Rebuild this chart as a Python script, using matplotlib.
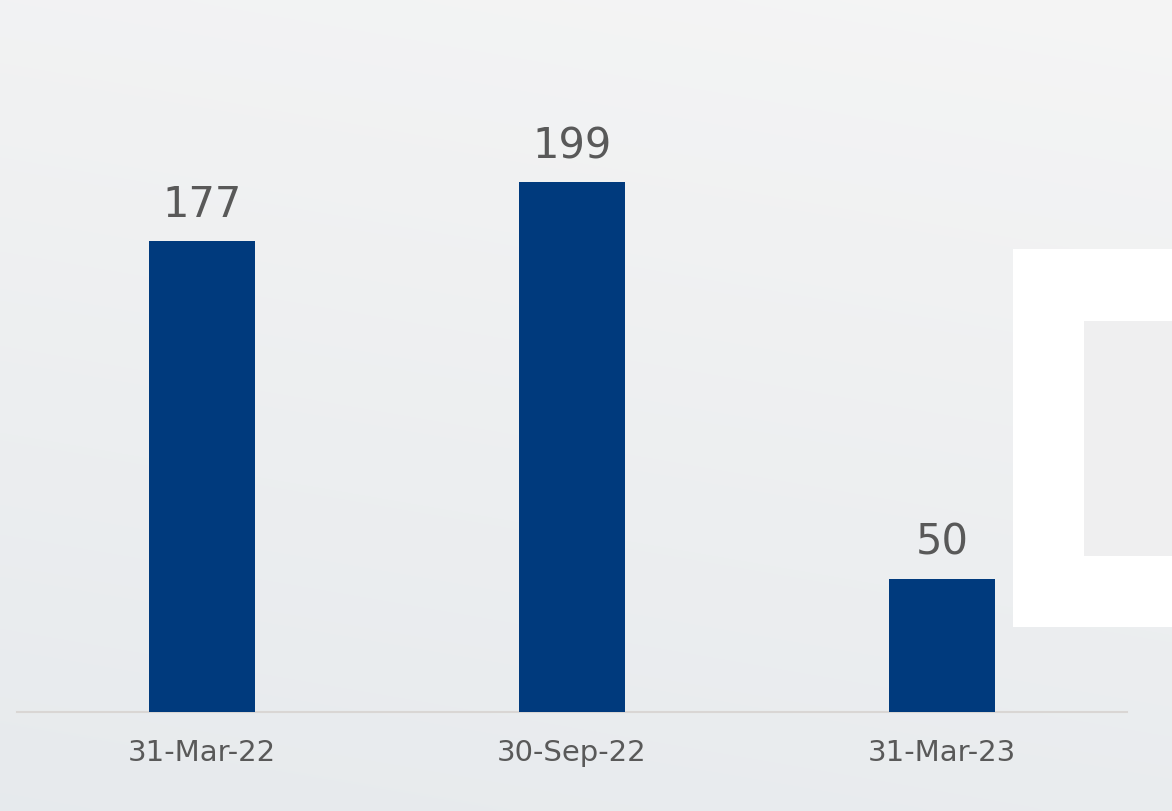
import numpy as np
import matplotlib
matplotlib.use("Agg")
import matplotlib.pyplot as plt
from matplotlib.patches import Rectangle

categories = ["31-Mar-22", "30-Sep-22", "31-Mar-23"]
values = [177, 199, 50]

W, H = 1172, 812
fig = plt.figure(figsize=(W / 100, H / 100), dpi=100)

# background
bg = fig.add_axes([0, 0, 1, 1])
yy, xx = np.mgrid[0:1:200j, 0:1:300j]
top = np.array([0.960, 0.960, 0.960])
bot = np.array([0.905, 0.918, 0.930])
t = (yy * 0.8 + (1 - xx) * 0.2)[..., None]
img = top * (1 - t) + bot * t
bg.imshow(img, extent=[0, W, H, 0], aspect="auto", interpolation="bicubic")
bg.add_patch(Rectangle((1013, 250), W - 1013, 378, facecolor="white", edgecolor="none"))
bg.add_patch(Rectangle((1084, 322), W - 1084, 235, facecolor="#efeff0", edgecolor="none"))
bg.set_xlim(0, W)
bg.set_ylim(H, 0)
bg.axis("off")

ax = fig.add_axes([17 / W, (H - 713) / H, (1127 - 17) / W, 665.25 / H])
ax.patch.set_alpha(0)
x = np.arange(len(categories))
ax.bar(x, values, width=0.287, color="#003a7d", zorder=3)
for xi, v in zip(x, values):
    ax.text(xi, v + 6, str(v), ha="center", va="bottom", fontsize=30,
            color="#595959", family="DejaVu Sans")
ax.set_xlim(-0.5, 2.5)
ax.set_ylim(0, 250)
ax.set_xticks(x)
ax.set_xticklabels(categories, fontsize=21, color="#595959")
ax.tick_params(axis="x", length=0, pad=19)
ax.set_yticks([])
for s in ["top", "right", "left"]:
    ax.spines[s].set_visible(False)
ax.spines["bottom"].set_color("#d9d6d4")
ax.spines["bottom"].set_linewidth(1.5)

fig.savefig("out.png", dpi=100)
